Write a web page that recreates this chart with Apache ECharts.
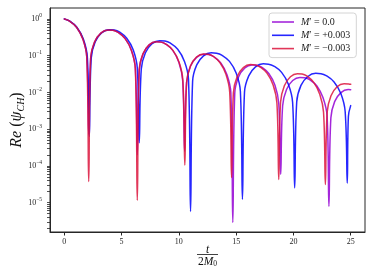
<!DOCTYPE html>
<html><head><meta charset="utf-8">
<script src="https://cdn.jsdelivr.net/npm/echarts@6/dist/echarts.min.js"></script>
<style>html,body{margin:0;padding:0;background:#fff}#c{width:374px;height:278px}</style>
</head><body><div id="c"></div>
<script>
// ---- data ----
const seriesNames = ["M′ = 0.0", "M′ = +0.003", "M′ = −0.003"];
const xTicks = [0, 5, 10, 15, 20, 25];
const yTicks = [1e-5, 1e-4, 1e-3, 1e-2, 1e-1, 1];
const yTickExp = ['−5', '−4', '−3', '−2', '−1', '0'];

// M' = 0.0 (purple)
const tPurple = [0,0.43,1.07,1.62,1.96,2.13, 2.30,2.64,3.19,3.83,4.25,4.67,5.31,5.86,6.20,6.37, 6.54,6.87,7.40,8.02,8.44,8.85,9.47,10.00,10.33,10.50, 10.67,11.01,11.55,12.18,12.61,13.03,13.66,14.20,14.54,14.71, 14.88,15.21,15.76,16.38,16.80,17.22,17.85,18.39,18.72,18.89, 19.06,19.40,19.94,20.57,21.00,21.42,22.05,22.59,22.94,23.10, 23.27,23.60,24.15,24.78,25];
const vPurple = [1.0,0.887,0.596,0.283,0.0918,7.24e-4, 0.0845,0.234,0.412,0.499,0.490,0.435,0.292,0.139,0.045,2.0e-4, 0.0405,0.112,0.197,0.239,0.234,0.208,0.140,0.0664,0.0215,2.51e-4, 0.0185,0.0513,0.0902,0.109,0.107,0.0951,0.0638,0.0303,0.00984,2.88e-6, 0.00948,0.0263,0.0462,0.056,0.055,0.0488,0.0327,0.0156,0.00505,5.89e-5, 0.00434,0.012,0.0211,0.0256,0.0251,0.0223,0.015,0.00711,0.00231,7.94e-6, 0.00203,0.00562,0.00989,0.012,0.0119];

// M' = +0.003 (blue)
const tBlue = [0,0.44,1.09,1.66,2.01,2.18, 2.35,2.70,3.27,3.92,4.36,4.80,5.45,6.02,6.37,6.54, 6.72,7.08,7.66,8.33,8.78,9.23,9.90,10.48,10.84,11.02, 11.20,11.56,12.15,12.83,13.29,13.74,14.42,15.01,15.37,15.55, 15.73,16.10,16.69,17.37,17.83,18.29,18.97,19.56,19.93,20.11, 20.29,20.66,21.26,21.95,22.41,22.86,23.55,24.15,24.52,24.70, 24.80,25];
const vBlue = [1.0,0.887,0.596,0.283,0.0918,6.31e-4, 0.0865,0.240,0.422,0.511,0.501,0.445,0.299,0.142,0.046,4.27e-4, 0.0434,0.120,0.211,0.256,0.251,0.223,0.150,0.0711,0.0231,5.75e-6, 0.0203,0.0562,0.0989,0.120,0.117,0.104,0.070,0.0333,0.0108,1.23e-5, 0.0102,0.0282,0.0495,0.060,0.0589,0.0522,0.0351,0.0167,0.0054,2.51e-5, 0.00558,0.0155,0.0272,0.033,0.0324,0.0287,0.0193,0.00916,0.00297,3.39e-5, 0.0022,0.00437];

// M' = -0.003 (red)
const tRed = [0,0.43,1.07,1.62,1.96,2.13, 2.30,2.64,3.19,3.83,4.25,4.67,5.31,5.86,6.20,6.37, 6.54,6.87,7.41,8.03,8.45,8.86,9.48,10.02,10.35,10.52, 10.68,11.01,11.54,12.15,12.56,12.97,13.58,14.11,14.44,14.60, 14.76,15.09,15.63,16.25,16.66,17.07,17.69,18.23,18.56,18.72, 18.88,19.21,19.74,20.35,20.76,21.16,21.77,22.30,22.63,22.79, 22.95,23.28,23.81,24.42,24.83,25];
const vRed = [1.0,0.887,0.596,0.283,0.0918,3.72e-5, 0.0845,0.234,0.412,0.499,0.490,0.435,0.292,0.139,0.045,1.15e-5, 0.0405,0.112,0.197,0.239,0.234,0.208,0.140,0.0664,0.0215,1.05e-4, 0.0189,0.0525,0.0923,0.112,0.110,0.0973,0.0653,0.031,0.0101,4.79e-5, 0.0097,0.0269,0.0473,0.0573,0.0562,0.0499,0.0335,0.0159,0.00516,4.27e-5, 0.00546,0.0151,0.0266,0.0322,0.0316,0.0281,0.0188,0.00895,0.0029,3.09e-5, 0.00293,0.00813,0.0143,0.0173,0.0170,0.0166];

// ---- chart ----
const pairs = (t, v) => t.map((x, i) => [x, v[i]]);
const xMin = -1.25, xMax = 26.25;
const yMin = 1.58e-6, yMax = 1.99;
const minorTicks = [];
for (let e = -6; e <= 0; e++) for (let m = 2; m <= 9; m++) {
  const v = m * Math.pow(10, e);
  if (v > yMin && v < yMax) minorTicks.push(v);
}
const allYTicks = yTicks.concat(minorTicks).sort((a, b) => a - b);
const axisColor = '#262626';
const serif = 'Liberation Serif';
const colors = ['#9400d3', '#0000ff', '#dc143c'];
const datas = [pairs(tPurple, vPurple), pairs(tBlue, vBlue), pairs(tRed, vRed)];

const chart = echarts.init(document.getElementById('c'), null, {renderer: 'canvas'});
chart.setOption({
  animation: false,
  backgroundColor: '#fff',
  grid: {left: 50, right: 9, top: 8, bottom: 46, show: true, borderColor: axisColor, borderWidth: 1, backgroundColor: 'transparent'},
  xAxis: {
    type: 'value', min: xMin, max: xMax,
    axisLine: {show: true, onZero: false, lineStyle: {color: axisColor, width: 1}},
    splitLine: {show: false},
    axisTick: {show: true, length: 3.5, lineStyle: {color: axisColor, width: 1}, customValues: xTicks},
    axisLabel: {customValues: xTicks, margin: 6, fontFamily: serif, fontSize: 8, color: axisColor}
  },
  yAxis: {
    type: 'log', logBase: 10, min: yMin, max: yMax, position: 'left',
    axisLine: {show: true, onZero: false, lineStyle: {color: axisColor, width: 1}},
    splitLine: {show: false},
    axisTick: {show: true, length: 3, lineStyle: {color: axisColor, width: 0.8}, customValues: allYTicks},
    axisLabel: {
      customValues: yTicks, margin: 8, color: axisColor,
      formatter: function (v) {
        const e = Math.round(Math.log10(v));
        const idx = yTicks.findIndex(t => Math.abs(Math.log10(t) - e) < 1e-6);
        return '{b|10}{s|' + (idx >= 0 ? yTickExp[idx] : e) + '}';
      },
      rich: {
        b: {fontFamily: serif, fontSize: 8, color: axisColor},
        s: {fontFamily: serif, fontSize: 5.5, color: axisColor, padding: [0, 0, 6, 0]}
      }
    }
  },
  legend: {
    left: 269, top: 13, orient: 'vertical',
    icon: 'rect', itemWidth: 22, itemHeight: 1.6, itemGap: 3.3,
    padding: [4, 6, 4, 3],
    backgroundColor: 'rgba(255,255,255,0.8)', borderColor: '#d4d4d4', borderWidth: 1, borderRadius: 3,
    data: seriesNames,
    formatter: function (name) { return '{i|M}{n|' + name.slice(1) + '}'; },
    textStyle: {
      color: '#222',
      rich: {
        i: {fontFamily: serif, fontStyle: 'italic', fontSize: 10, lineHeight: 10, color: '#222', padding: [0, 0, 0, 2]},
        n: {fontFamily: serif, fontSize: 10, lineHeight: 10, color: '#222'}
      }
    }
  },
  series: seriesNames.map((n, i) => ({
    name: n, type: 'line', data: datas[i],
    symbol: 'none', showSymbol: false, smooth: 0.4,
    color: colors[i],
    itemStyle: {color: colors[i], opacity: 0.85},
    lineStyle: {color: colors[i], width: 1.5, opacity: 0.85, join: 'round', cap: 'round'},
    z: 2 + i
  })),
  graphic: [
    {type: 'text', x: 17, y: 120, rotation: Math.PI / 2,
     style: {text: '{i|Re}{n| (}{i|ψ}{s|CH}{n|)}', align: 'center', verticalAlign: 'middle', fill: '#111',
       rich: {
         i: {fontFamily: serif, fontStyle: 'italic', fontSize: 16, fill: '#111'},
         n: {fontFamily: serif, fontSize: 16, fill: '#111'},
         s: {fontFamily: serif, fontStyle: 'italic', fontSize: 10, fill: '#111', padding: [8, 0, 0, 0]}
       }}},
    {type: 'text', x: 207.5, y: 249.5,
     style: {text: 't', align: 'center', verticalAlign: 'middle', font: 'italic 11.5px "Liberation Serif"', fill: '#111'}},
    {type: 'line', shape: {x1: 197, y1: 254.5, x2: 218, y2: 254.5}, style: {stroke: '#111', lineWidth: 0.8}},
    {type: 'text', x: 207.5, y: 262,
     style: {text: '{n|2}{i|M}{s|0}', align: 'center', verticalAlign: 'middle', fill: '#111',
       rich: {
         n: {fontFamily: serif, fontSize: 11.5, fill: '#111'},
         i: {fontFamily: serif, fontStyle: 'italic', fontSize: 11.5, fill: '#111'},
         s: {fontFamily: serif, fontSize: 7.5, fill: '#111', padding: [5, 0, 0, 0]}
       }}}
  ]
});
</script>
</body></html>
